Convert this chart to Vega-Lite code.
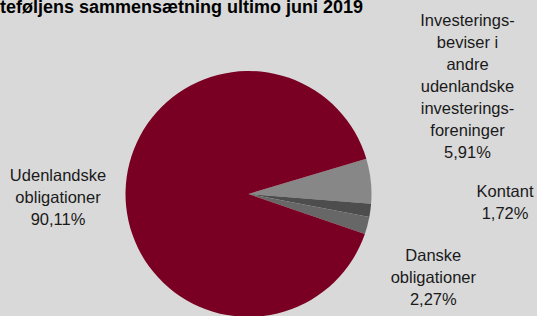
{
  "$schema": "https://vega.github.io/schema/vega-lite/v6.json",
  "width": 497,
  "height": 388,
  "autosize": {"type": "none"},
  "padding": {"left": 0, "top": 0, "right": 40, "bottom": 0},
  "background": "#d9d9d9",
  "config": {"view": {"stroke": null}, "text": {"font": "Liberation Sans", "fontSize": 16.5, "lineHeight": 22, "color": "#1a1a1a"}},
  "title": {
    "text": "Porteføljens sammensætning ultimo juni 2019",
    "anchor": "start",
    "dx": -30,
    "offset": -31,
    "baseline": "alphabetic",
    "font": "Liberation Sans",
    "fontSize": 18,
    "fontWeight": "bold",
    "color": "#000000"
  },
  "data": {
    "values": [
      {"kategori": "Investeringsbeviser", "andel": 5.91, "rk": 1, "label": "Investerings-\nbeviser i\nandre\nudenlandske\ninvesterings-\nforeninger\n5,91%"},
      {"kategori": "Kontant", "andel": 1.72, "rk": 2, "label": "Kontant\n1,72%"},
      {"kategori": "Danske obligationer", "andel": 2.27, "rk": 3, "label": "Danske\nobligationer\n2,27%"},
      {"kategori": "Udenlandske obligationer", "andel": 90.11, "rk": 4, "label": "Udenlandske\nobligationer\n90,11%"}
    ]
  },
  "encoding": {
    "theta": {"field": "andel", "type": "quantitative", "stack": true, "scale": {"range": [1.2793, 7.5625]}},
    "order": {"field": "rk", "type": "quantitative"}
  },
  "layer": [
    {
      "mark": {"type": "arc", "outerRadius": 123},
      "encoding": {
        "color": {
          "field": "kategori",
          "type": "nominal",
          "legend": null,
          "scale": {
            "domain": ["Investeringsbeviser", "Kontant", "Danske obligationer", "Udenlandske obligationer"],
            "range": ["#878787", "#4d4d4d", "#676767", "#7a0023"]
          }
        }
      }
    },
    {
      "mark": {"type": "text", "radius": 143, "align": "center", "baseline": "middle", "lineBreak": "\n", "dx": 76.8, "dy": -157.9},
      "encoding": {"text": {"condition": {"test": "datum.rk == 1", "field": "label"}, "value": ""}}
    },
    {
      "mark": {"type": "text", "radius": 143, "align": "center", "baseline": "middle", "lineBreak": "\n", "dx": 114.8, "dy": -20.8},
      "encoding": {"text": {"condition": {"test": "datum.rk == 2", "field": "label"}, "value": ""}}
    },
    {
      "mark": {"type": "text", "radius": 143, "align": "center", "baseline": "middle", "lineBreak": "\n", "dx": 46.6, "dy": 25},
      "encoding": {"text": {"condition": {"test": "datum.rk == 3", "field": "label"}, "value": ""}}
    },
    {
      "mark": {"type": "text", "radius": 143, "align": "center", "baseline": "middle", "lineBreak": "\n", "dx": -47.5, "dy": -15.1},
      "encoding": {"text": {"condition": {"test": "datum.rk == 4", "field": "label"}, "value": ""}}
    }
  ]
}
